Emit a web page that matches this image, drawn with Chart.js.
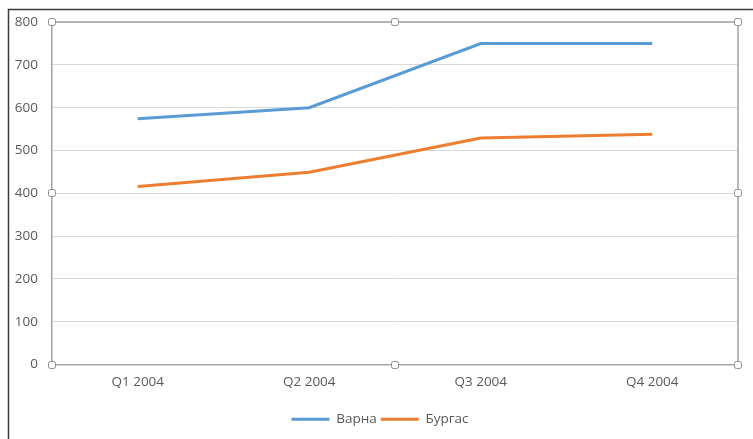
<!DOCTYPE html>
<html>
<head>
<meta charset="utf-8">
<script src="https://cdn.jsdelivr.net/npm/chart.js@4.4.1/dist/chart.umd.min.js"></script>
<style>
  html, body { margin: 0; padding: 0; background: #fff; }
  #wrap { width: 753px; height: 439px; position: relative; }
</style>
</head>
<body>
<div id="wrap"><canvas id="salesChart"></canvas></div>
<script>
// Продажби по тримесечия
const quarters = ['Q1 2004', 'Q2 2004', 'Q3 2004', 'Q4 2004'];
const varna = [574, 600, 750, 750];
const burgas = [416, 449, 529, 538];
const yTicks = [0, 100, 200, 300, 400, 500, 600, 700, 800];

const BLUE = '#5b9bd5';
const ORANGE = '#ed7d31';
const TEXT = '#595959';
const FRAME = '#a3a3a3';
const FONT = { family: 'Open Sans', size: 13.5 };

// рамка на избраната област + дръжки, и външна рамка
const framePlugin = {
  id: 'plotFrame',
  afterLayout(chart) {
    // легендата се центрира спрямо цялата ширина, не само до дясното поле
    const lg = chart.legend;
    if (lg) { lg.left += 11; lg.right += 11; }
  },
  afterDraw(chart) {
    const ctx = chart.ctx;
    const a = chart.chartArea;
    ctx.save();

    // външна рамка (горе и вляво)
    ctx.strokeStyle = '#3a3a3a';
    ctx.lineWidth = 1.5;
    ctx.beginPath();
    ctx.moveTo(8.5, chart.height);
    ctx.lineTo(8.5, 9.5);
    ctx.lineTo(chart.width, 9.5);
    ctx.stroke();

    // горна и дясна страна на областта
    ctx.strokeStyle = FRAME;
    ctx.lineWidth = 1.5;
    ctx.beginPath();
    ctx.moveTo(a.left, a.top);
    ctx.lineTo(a.right, a.top);
    ctx.lineTo(a.right, a.bottom);
    ctx.stroke();

    // дръжки
    const xs = [a.left, (a.left + a.right) / 2, a.right];
    const ys = [a.top, (a.top + a.bottom) / 2, a.bottom];
    ctx.fillStyle = '#fff';
    ctx.strokeStyle = '#8c8c8c';
    ctx.lineWidth = 1;
    xs.forEach((x, i) => ys.forEach((y, j) => {
      if (i === 1 && j === 1) return;
      ctx.beginPath();
      ctx.roundRect(Math.round(x) - 3.5, Math.round(y) - 3.5, 7, 7, 2);
      ctx.fill();
      ctx.stroke();
    }));
    ctx.restore();
  }
};

new Chart(document.getElementById('salesChart'), {
  type: 'line',
  data: {
    labels: quarters,
    datasets: [
      { label: 'Варна', data: varna, borderColor: BLUE, backgroundColor: BLUE, borderWidth: 3, pointRadius: 0, tension: 0 },
      { label: 'Бургас', data: burgas, borderColor: ORANGE, backgroundColor: ORANGE, borderWidth: 3, pointRadius: 0, tension: 0 }
    ]
  },
  options: {
    responsive: true,
    maintainAspectRatio: false,
    animation: false,
    layout: { padding: { top: 22, right: 15, bottom: 3, left: 0 } },
    plugins: {
      tooltip: { enabled: false },
      legend: {
        position: 'bottom',
        labels: {
          usePointStyle: true,
          pointStyle: 'line',
          pointStyleWidth: 38,
          color: TEXT,
          font: FONT,
          padding: 4
        }
      }
    },
    scales: {
      x: {
        offset: true,
        grid: { display: false, drawTicks: false },
        border: { color: FRAME, width: 1.5 },
        ticks: { color: TEXT, font: FONT, padding: 10, maxRotation: 0 },
        afterFit(scale) { scale.height = 44; }
      },
      y: {
        min: 0,
        max: 800,
        afterBuildTicks(scale) { scale.ticks = yTicks.map(v => ({ value: v })); },
        grid: { color: '#d9d9d9', drawTicks: false },
        border: { color: FRAME, width: 1.5 },
        ticks: { color: TEXT, font: FONT, padding: 14 },
        afterFit(scale) { scale.width = 52; }
      }
    }
  },
  plugins: [framePlugin]
});
</script>
</body>
</html>
